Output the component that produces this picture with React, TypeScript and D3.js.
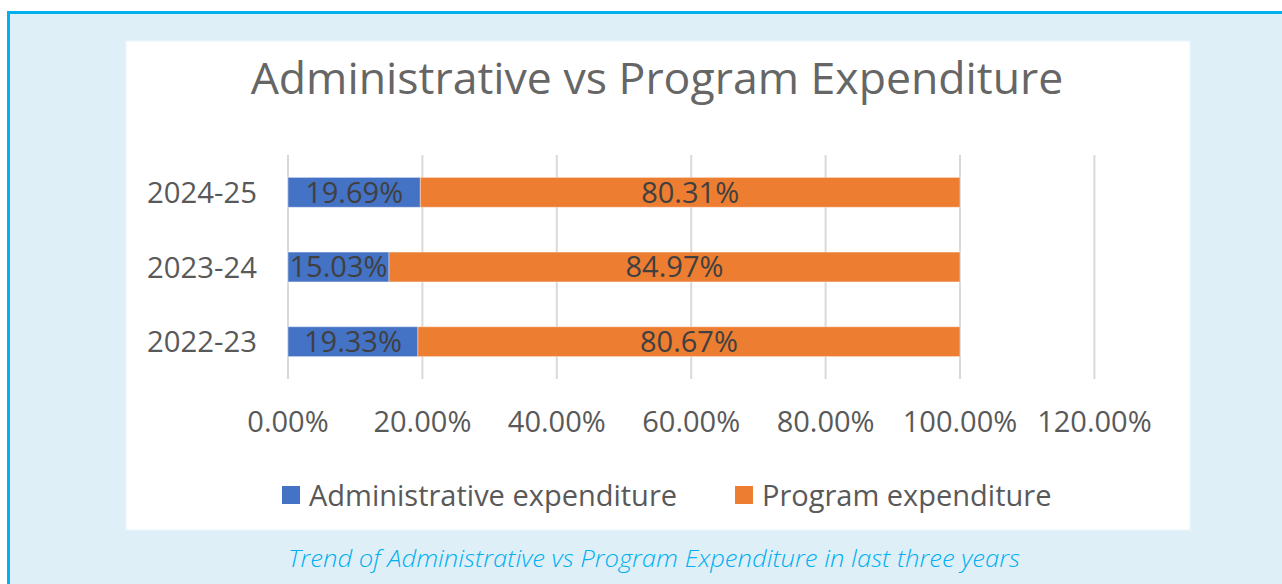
import React from "react";
import * as d3 from "d3";

const categories = ["2024-25", "2023-24", "2022-23"];
const adminValues = [19.69, 15.03, 19.33];
const programValues = [80.31, 84.97, 80.67];
const xTicks = [0, 20, 40, 60, 80, 100, 120];
const seriesNames = ["Administrative expenditure", "Program expenditure"];
const seriesColors = ["#4472C4", "#ED7D31"];
const title = "Administrative vs Program Expenditure";
const caption = "Trend of Administrative vs Program Expenditure in last three years";

const FONT = "'Open Sans', 'DejaVu Sans', sans-serif";

export default function App() {
  const W = 1282;
  const H = 584;
  const x = d3.scaleLinear().domain([0, 120]).range([288, 1094.4]);
  const y = d3
    .scaleBand<string>()
    .domain(categories)
    .range([155, 379])
    .paddingInner(0.6)
    .paddingOuter(0.3);
  const bw = y.bandwidth();

  const rows = categories.map((c, i) => ({
    cat: c,
    segs: [
      { v0: 0, v1: adminValues[i], color: seriesColors[0] },
      { v0: adminValues[i], v1: adminValues[i] + programValues[i], color: seriesColors[1] },
    ],
  }));

  return (
    <svg
      width={W}
      height={H}
      style={{ position: "absolute", left: 0, top: 0, display: "block" }}
      fontFamily={FONT}
    >
      <rect x={0} y={0} width={W} height={H} fill="#ffffff" />
      <rect
        x={8.5}
        y={12.5}
        width={W + 20}
        height={H + 20}
        fill="#DFEFF8"
        stroke="#00B0F0"
        strokeWidth={3}
      />
      <rect x={126} y={41} width={1064} height={489} fill="#ffffff" stroke="#E9F5FB" strokeWidth={1} />

      <text x={657} y={94} textAnchor="middle" fontSize={44.6} fill="#666666">
        {title}
      </text>

      {xTicks.map((t) => (
        <line key={"g" + t} x1={x(t)} x2={x(t)} y1={155} y2={379} stroke="#D9D9D9" strokeWidth={2} />
      ))}

      {rows.map((r) => (
        <g key={r.cat}>
          {r.segs.map((s, j) => (
            <rect
              key={j}
              x={x(s.v0)}
              y={y(r.cat)!}
              width={x(s.v1) - x(s.v0)}
              height={bw}
              fill={s.color}
              stroke="#ffffff"
              strokeOpacity={0.4}
              strokeWidth={1}
            />
          ))}
          {r.segs.map((s, j) => (
            <text
              key={"l" + j}
              x={(x(s.v0) + x(s.v1)) / 2}
              y={y(r.cat)! + bw / 2}
              dy="0.36em"
              textAnchor="middle"
              fontSize={29}
              fill="#404040"
            >
              {(s.v1 - s.v0).toFixed(2) + "%"}
            </text>
          ))}
          <text
            x={257}
            y={y(r.cat)! + bw / 2}
            dy="0.36em"
            textAnchor="end"
            fontSize={29.3}
            fill="#595959"
          >
            {r.cat}
          </text>
        </g>
      ))}

      {xTicks.map((t) => (
        <text key={"t" + t} x={x(t)} y={432} textAnchor="middle" fontSize={29} fill="#595959">
          {t.toFixed(2) + "%"}
        </text>
      ))}

      <rect x={282} y={486} width={18} height={18} fill={seriesColors[0]} />
      <text x={309} y={506} fontSize={29} fill="#595959">
        {seriesNames[0]}
      </text>
      <rect x={735} y={486} width={18} height={18} fill={seriesColors[1]} />
      <text x={762} y={506} fontSize={29} fill="#595959">
        {seriesNames[1]}
      </text>

      <text
        x={288}
        y={567}
        fontSize={24}
        fontStyle="italic"
        fontWeight={300}
        fill="#00B0F0"
        textLength={732}
        lengthAdjust="spacingAndGlyphs"
      >
        {caption}
      </text>
    </svg>
  );
}
